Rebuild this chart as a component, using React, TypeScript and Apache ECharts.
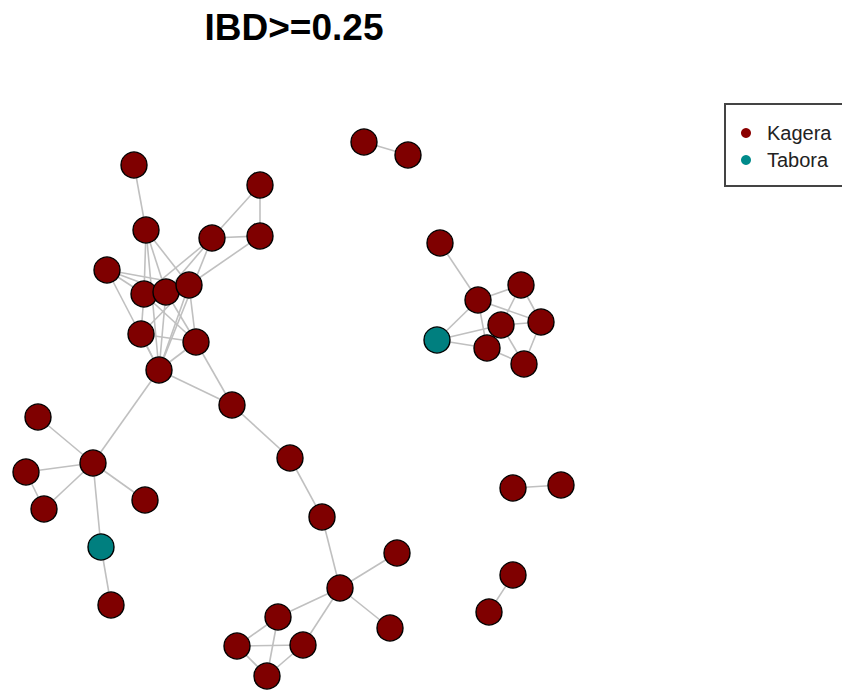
import React, { useEffect, useRef } from "react";
import * as echarts from "echarts";

// Node layout coordinates (layout units), group membership
const nodeX = [134, 146, 260, 212, 260, 107, 144, 166, 189, 141, 196, 159, 232, 290, 322, 340, 397, 390, 278, 237, 303, 267, 93, 38, 26, 44, 145, 101, 111, 364, 408, 440, 478, 521, 501, 541, 437, 487, 524, 513, 561, 513, 489];
const nodeY = [165, 230, 185, 238, 236, 270, 294, 292, 285, 334, 342, 370, 405, 458, 517, 588, 553, 628, 617, 646, 645, 676, 463, 417, 472, 509, 500, 547, 605, 142, 155, 243, 300, 285, 325, 322, 340, 348, 364, 488, 485, 575, 612];
const nodeGroup = ["Kagera", "Kagera", "Kagera", "Kagera", "Kagera", "Kagera", "Kagera", "Kagera", "Kagera", "Kagera", "Kagera", "Kagera", "Kagera", "Kagera", "Kagera", "Kagera", "Kagera", "Kagera", "Kagera", "Kagera", "Kagera", "Kagera", "Kagera", "Kagera", "Kagera", "Kagera", "Kagera", "Tabora", "Kagera", "Kagera", "Kagera", "Kagera", "Kagera", "Kagera", "Kagera", "Kagera", "Tabora", "Kagera", "Kagera", "Kagera", "Kagera", "Kagera", "Kagera"];

const edgeSource = [0, 1, 1, 1, 1, 2, 2, 3, 3, 3, 3, 4, 5, 5, 5, 5, 6, 7, 6, 6, 7, 7, 8, 8, 8, 9, 9, 10, 10, 11, 11, 12, 13, 14, 15, 15, 15, 15, 18, 18, 19, 19, 20, 22, 22, 22, 22, 22, 24, 27, 29, 39, 41, 31, 32, 32, 32, 32, 33, 33, 34, 34, 34, 34, 35, 36, 37];
const edgeTarget = [1, 6, 7, 8, 11, 3, 4, 4, 6, 7, 11, 8, 6, 7, 8, 11, 7, 8, 9, 10, 10, 11, 9, 10, 11, 10, 11, 11, 12, 12, 22, 13, 14, 15, 16, 17, 18, 20, 19, 21, 20, 21, 21, 23, 24, 25, 26, 27, 25, 28, 30, 40, 42, 32, 33, 36, 35, 37, 34, 35, 35, 36, 37, 38, 38, 37, 38];

const groups = ["Kagera", "Tabora"];
const groupColors = ["#7F0000", "#007F7F"];
const legendColors = ["#8B0000", "#008B8B"];
const titleText = "IBD>=0.25";

export default function App() {
  const ref = useRef<HTMLDivElement>(null);
  useEffect(() => {
    document.body.style.margin = "0";
    const chart = echarts.init(ref.current!, null, { renderer: "svg" });
    const data = nodeX.map((x, i) => ({
      name: "n" + i,
      value: [x, nodeY[i]],
      category: groups.indexOf(nodeGroup[i]),
    }));
    const links = edgeSource.map((s, i) => ({ source: s, target: edgeTarget[i] }));
    const boxStyle = { stroke: "#444", lineWidth: 2 };
    chart.setOption({
      animation: false,
      title: {
        text: titleText,
        left: 289,
        textAlign: "center",
        top: 4,
        textStyle: {
          fontFamily: "Liberation Sans",
          fontSize: 37,
          fontWeight: "bold",
          color: "#000",
        },
      },
      graphic: [
        { type: "line", shape: { x1: 725, y1: 104, x2: 842, y2: 104 }, style: boxStyle, z: 5 },
        { type: "line", shape: { x1: 725, y1: 103, x2: 725, y2: 187 }, style: boxStyle, z: 5 },
        { type: "line", shape: { x1: 725, y1: 186, x2: 842, y2: 186 }, style: boxStyle, z: 5 },
      ],
      legend: {
        orient: "vertical",
        left: 731,
        top: 104,
        data: groups.map((g, i) => ({ name: g, itemStyle: { color: legendColors[i], borderWidth: 0 } })),
        icon: "circle",
        itemWidth: 22,
        itemHeight: 10,
        itemGap: 5,
        padding: [18, 0, 15, 10],
        borderWidth: 0,
        formatter: "{a|{name}}",
        textStyle: {
          fontFamily: "Liberation Sans",
          fontSize: 20,
          lineHeight: 22,
          color: "#222",
          rich: {
            a: {
              fontFamily: "Liberation Sans",
              fontSize: 20,
              lineHeight: 22,
              color: "#222",
              padding: [0, 0, 0, 5],
            },
          },
        },
      },
      grid: { left: 0, right: 0, top: 0, bottom: 0 },
      xAxis: { type: "value", min: 0, max: 842, show: false },
      yAxis: { type: "value", min: 0, max: 692, inverse: true, show: false },
      series: [
        {
          type: "graph",
          coordinateSystem: "cartesian2d",
          layout: "none",
          symbol: "circle",
          symbolSize: 26,
          categories: groups.map((g, i) => ({
            name: g,
            itemStyle: { color: groupColors[i], borderColor: "#000", borderWidth: 1.4 },
          })),
          data,
          links,
          lineStyle: { color: "#c0c0c0", width: 1.6, opacity: 1, curveness: 0 },
          emphasis: { disabled: true },
          label: { show: false },
        },
      ],
    });
    return () => chart.dispose();
  }, []);
  return <div ref={ref} style={{ width: 842, height: 692 }} />;
}
